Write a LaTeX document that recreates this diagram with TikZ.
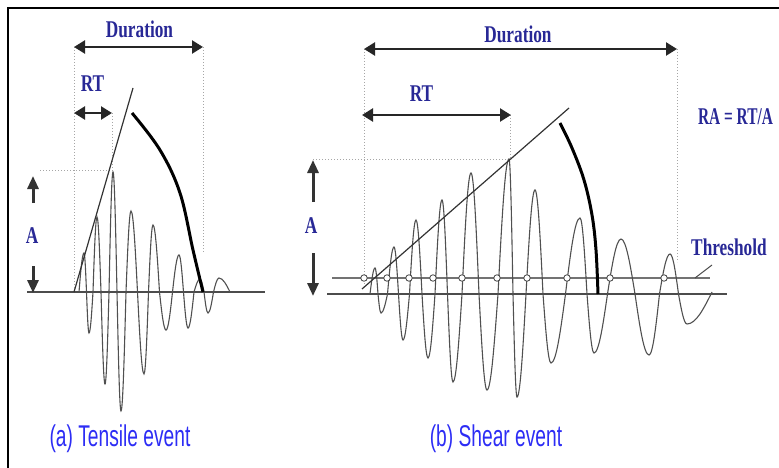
\documentclass[tikz,border=0pt]{standalone}
\usepackage{fontspec}
\setmainfont{Liberation Serif}
\newfontfamily\lblfont{Liberation Serif}[FakeStretch=0.72]
\newfontfamily\lblnarrow{Liberation Serif}[FakeStretch=0.64]
\newfontfamily\capfont{Liberation Sans}[FakeStretch=0.64]
\usetikzlibrary{arrows.meta}
\definecolor{lblblue}{RGB}{40,40,150}
\definecolor{capblue}{RGB}{45,45,245}
\definecolor{wavegray}{RGB}{80,80,80}
\begin{document}
\begin{tikzpicture}[x=1pt,y=-1pt,
  lbl/.style={text=lblblue,font=\lblfont\bfseries\fontsize{24}{24}\selectfont,inner sep=0pt,anchor=base},
  capt/.style={text=capblue,font=\capfont\fontsize{30}{30}\selectfont,inner sep=0pt,anchor=base},
  dimarrow/.style={line width=2.4pt,draw=black!85,{Triangle[length=11pt,width=13pt]}-{Triangle[length=11pt,width=13pt]}},
  aarrow/.style={line width=3pt,draw=black!80,-{Triangle[length=13pt,width=11pt]}},
  guide/.style={draw=gray!70,line width=0.9pt,dash pattern=on 1pt off 2pt},
  baseln/.style={draw=black!70,line width=2.4pt},
  thresh/.style={draw=black!55,line width=2pt},
  wave/.style={draw=wavegray,line width=1.1pt},
  tangent/.style={draw=black!80,line width=1.2pt},
  decay/.style={draw=black,line width=3pt},
  tcirc/.style={draw=black!75,fill=white,line width=0.8pt}]
\useasboundingbox (0,0) rectangle (779,468);
% frame (top and left edges only)
\draw[line width=2.5pt] (8,468) -- (8,8) -- (779,8);

% ================= (a) Tensile event =================
\coordinate (aD1) at (74,47);  \coordinate (aD2) at (203,47);
\coordinate (aR1) at (74,113); \coordinate (aR2) at (112,113);
% guides
\draw[guide] (74,47) -- (74,292);
\draw[guide] (203,47) -- (203,252);
\draw[guide] (112,113) -- (112,172);
\draw[guide] (40,170) -- (113,170);
% baseline
\draw[baseln] (27,292) -- (265,292);
% waveform
\draw[wave] (79,292) sin (84,253) cos (86.5,292) sin (89,333) cos (93,292)
  sin (97,217) cos (101,292) sin (105,384) cos (109,292) sin (113,172) cos (117,292)
  sin (121,411) cos (126,292) sin (131,211) cos (137.5,292) sin (144,374) cos (148.5,292)
  sin (153,225) cos (159.5,292) sin (166,330) cos (172.5,292) sin (179,255) cos (183.5,292)
  sin (188,328) cos (194,292) sin (200,279) cos (204,292) sin (208,313) cos (213.5,292)
  sin (219,278) cos (230,292);
% tangent
\coordinate (aT1) at (74,292); \coordinate (aT2) at (133,88);
\draw[tangent] (aT1) -- (aT2);
% decay envelope
\draw[decay] plot[smooth,tension=0.6] coordinates {(132,113) (160,150) (180,193) (193,250) (203,292)};
% dimension arrows
\draw[dimarrow] (aD1) -- (aD2);
\draw[dimarrow] (aR1) -- (aR2);
\coordinate (aAu1) at (33,203); \coordinate (aAu2) at (33,176);
\coordinate (aAd1) at (33,266); \coordinate (aAd2) at (33,293);
\draw[aarrow] (aAu1) -- (aAu2);
\draw[aarrow] (aAd1) -- (aAd2);
% labels
\node[lbl] (aDur) at (139.5,38) {Duration};
\node[lbl] (aRT) at (92.5,91.5) {RT};
\node[lbl] (aA) at (32,243) {A};
\node[capt] (aCap) at (120,446) {(a) Tensile event};

% ================= (b) Shear event =================
\coordinate (bD1) at (364,49);  \coordinate (bD2) at (677,49);
\coordinate (bR1) at (362,115); \coordinate (bR2) at (511,115);
\draw[guide] (364,49) -- (364,285);
\draw[guide] (677,49) -- (677,262);
\draw[guide] (510,115) -- (510,159);
\draw[guide] (313,159) -- (508,159);
% baseline and threshold
\draw[baseln] (327,294) -- (727,294);
\draw[thresh] (332,278) -- (710,278);
% waveform
\draw[wave] (370,294) sin (375,268) cos (378,294) sin (381,313) cos (387.5,294)
  sin (394,247) cos (398.5,294) sin (403,340) cos (409.5,294) sin (416,220) cos (422,294)
  sin (428,358) cos (435,294) sin (442,200) cos (447.5,294) sin (453,382) cos (462,294)
  sin (471,173) cos (479,294) sin (487,390) cos (498,294) sin (509,159) cos (513,294)
  sin (517,397) cos (526,294) sin (535,190) cos (543,294) sin (551,363) cos (565.5,294)
  sin (580,218) cos (587,294) sin (594,353) cos (607.5,294) sin (621,239) cos (635,294)
  sin (649,355) cos (659.5,294) sin (670,254) cos (678.5,294) sin (687,324) cos (712,292);
% tangent
\coordinate (bT1) at (362,289); \coordinate (bT2) at (569,108);
\draw[tangent] (bT1) -- (bT2);
% decay envelope
\draw[decay] plot[smooth,tension=0.6] coordinates {(560,123) (572,148) (584,180) (592,215) (596,250) (598,294)};
% threshold crossing circles
\foreach \cx [count=\i] in {364,387,409,433,462,497,527,567,610,664}
  \node[tcirc,circle,inner sep=0pt,minimum size=6.5pt] (c\i) at (\cx,278) {};
% threshold pointer
\coordinate (thP1) at (695,278); \coordinate (thP2) at (712,265);
\draw[draw=black!70,line width=1pt] (thP1) -- (thP2);
% dimension arrows
\draw[dimarrow] (bD1) -- (bD2);
\draw[dimarrow] (bR1) -- (bR2);
\coordinate (bAu1) at (313,202); \coordinate (bAu2) at (313,160);
\coordinate (bAd1) at (313,253); \coordinate (bAd2) at (313,296);
\draw[aarrow] (bAu1) -- (bAu2);
\draw[aarrow] (bAd1) -- (bAd2);
% labels
\node[lbl] (bDur) at (518,43) {Duration};
\node[lbl] (bRT) at (421.5,101.5) {RT};
\node[lbl] (bA) at (311,233) {A};
\node[lbl,font=\lblnarrow\bfseries\fontsize{24}{24}\selectfont] (bRA) at (735.5,125) {RA = RT/A};
\node[lbl] (bTh) at (729,255.5) {Threshold};
\node[capt] (bCap) at (496,446.5) {(b) Shear event};
\end{tikzpicture}
\end{document}
